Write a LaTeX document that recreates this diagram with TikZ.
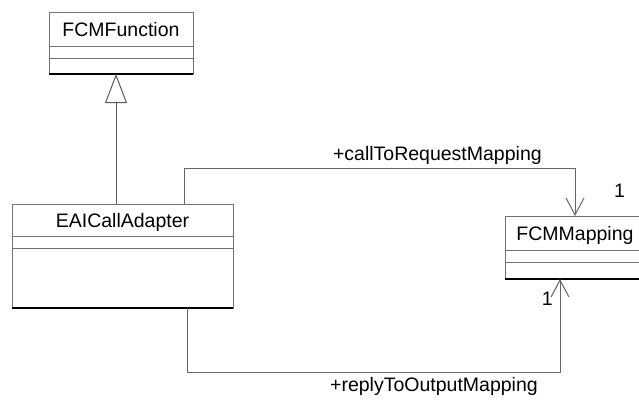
\documentclass[tikz,border=0pt]{standalone}
\usepackage{fontspec}
\setmainfont{Liberation Sans}
\usepackage{tikz}
\usetikzlibrary{arrows.meta,positioning}

\begin{document}
\begin{tikzpicture}[
        x=1pt, y=-1pt,
        node distance=0pt,
        classname/.style={rectangle, draw=black!55, line width=1pt, inner sep=0pt, outer sep=0pt, text height=14pt, text depth=0pt, font=\fontsize{19.5}{23}\selectfont},
        compartment/.style={rectangle, draw=black!55, line width=1pt, inner sep=0pt, outer sep=0pt},
        bottomedge/.style={draw=black, line width=1.6pt},
        inherit/.style={draw=black!65, line width=1pt, -{Triangle[open, length=29pt, width=22pt, line width=1pt]}},
        assoc/.style={draw=black!60, line width=1pt, -{Straight Barb[length=17pt, width=18pt, line width=1pt]}},
        role/.style={inner sep=0pt, font=\fontsize{19.5}{23}\selectfont},
        ]
        \useasboundingbox (0,0) rectangle (639,402);

        % Superclass
        \node[classname, minimum width=144pt, minimum height=34pt] (fcmfunc) at (121,29) {FCMFunction};
        \node[compartment, minimum width=144pt, minimum height=12pt, below=of fcmfunc] (fcmfuncattr) {};
        \node[compartment, minimum width=144pt, minimum height=16pt, below=of fcmfuncattr] (fcmfuncops) {};
        \draw[bottomedge] (fcmfuncops.south west) -- (fcmfuncops.south east);

        % Adapter class
        \node[classname, minimum width=221pt, minimum height=32pt] (eai) at (122.5,220) {EAICallAdapter};
        \node[compartment, minimum width=221pt, minimum height=12pt, below=of eai] (eaiattr) {};
        \node[compartment, minimum width=221pt, minimum height=60pt, below=of eaiattr] (eaiops) {};
        \draw[bottomedge] (eaiops.south west) -- (eaiops.south east);

        % Mapping class
        \node[classname, minimum width=140pt, minimum height=34pt] (fcmmap) at (575,233) {FCMMapping};
        \node[compartment, minimum width=140pt, minimum height=12pt, below=of fcmmap] (fcmmapattr) {};
        \node[compartment, minimum width=140pt, minimum height=17pt, below=of fcmmapattr] (fcmmapops) {};
        \draw[bottomedge] (fcmmapops.south west) -- (fcmmapops.south east);

        % Generalization
        \coordinate (fcmtip) at ([xshift=-5pt]fcmfuncops.south);
        \draw[inherit] (eai.north -| fcmtip) -- (fcmtip);

        % Associations
        \draw[assoc] ([xshift=61.5pt]eai.north) -- ++(0,-36) -| (fcmmap.north)
            node[role, pos=0.324, above=3pt] (callrole) {+callToRequestMapping};
        \node[role, above right=18pt and 39pt of fcmmap.north] (callmult) {1};

        \draw[assoc] ([xshift=64.5pt]eaiops.south) -- ++(0,64) -| ([xshift=-15pt]fcmmapops.south)
            node[role, pos=0.331, below=5pt] (replyrole) {+replyToOutputMapping};
        \node[role, below left=13pt and 22pt of fcmmapops.south] (replymult) {1};

    \end{tikzpicture}
\end{document}
